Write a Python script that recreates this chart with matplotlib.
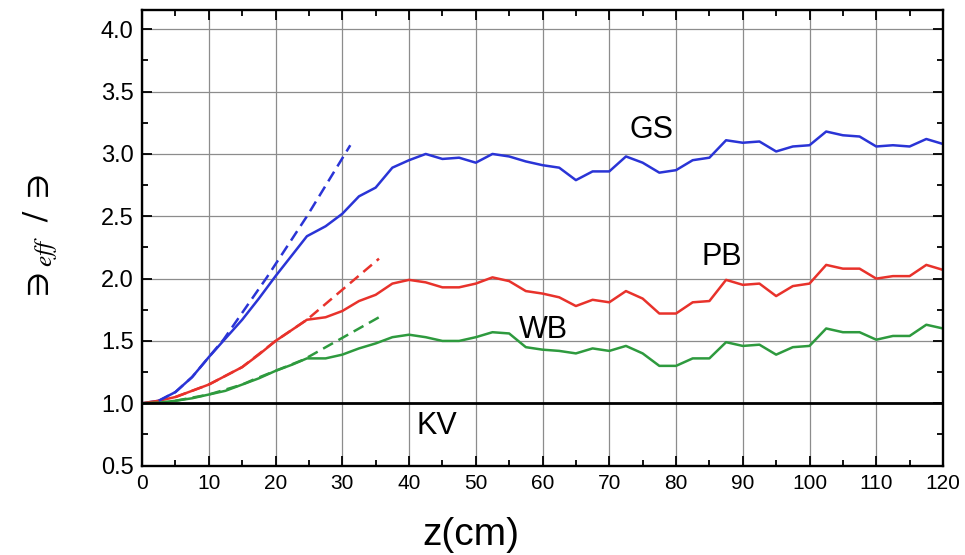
import matplotlib
matplotlib.use("Agg")
import matplotlib.pyplot as plt
from matplotlib.ticker import MultipleLocator

plt.rcParams['font.family'] = ['Liberation Sans', 'DejaVu Sans']
plt.rcParams['mathtext.fontset'] = 'stix'

# profundidade z (cm)
z = [0, 2.5, 5, 7.5, 10, 12.5, 15, 17.5, 20, 22.5, 24.7, 27.5, 30, 32.5, 35, 37.5,
     40, 42.5, 45, 47.5, 50, 52.5, 55, 57.5, 60, 62.5, 65, 67.5, 70, 72.5, 75, 77.5,
     80, 82.5, 85, 87.5, 90, 92.5, 95, 97.5, 100, 102.5, 105, 107.5, 110, 112.5,
     115, 117.5, 120]

gs = [1.00, 1.02, 1.09, 1.21, 1.37, 1.52, 1.67, 1.84, 2.02, 2.19, 2.34, 2.42, 2.52,
      2.66, 2.73, 2.89, 2.95, 3.00, 2.96, 2.97, 2.93, 3.00, 2.98, 2.94, 2.91, 2.89,
      2.79, 2.86, 2.86, 2.98, 2.93, 2.85, 2.87, 2.95, 2.97, 3.11, 3.09, 3.10, 3.02,
      3.06, 3.07, 3.18, 3.15, 3.14, 3.06, 3.07, 3.06, 3.12, 3.08]

pb = [1.00, 1.02, 1.05, 1.10, 1.15, 1.22, 1.29, 1.39, 1.50, 1.59, 1.67, 1.69, 1.74,
      1.82, 1.87, 1.96, 1.99, 1.97, 1.93, 1.93, 1.96, 2.01, 1.98, 1.90, 1.88, 1.85,
      1.78, 1.83, 1.81, 1.90, 1.84, 1.72, 1.72, 1.81, 1.82, 1.99, 1.95, 1.96, 1.86,
      1.94, 1.96, 2.11, 2.08, 2.08, 2.00, 2.02, 2.02, 2.11, 2.07]

wb = [1.00, 1.005, 1.02, 1.04, 1.07, 1.10, 1.15, 1.20, 1.26, 1.31, 1.36, 1.36, 1.39,
      1.44, 1.48, 1.53, 1.55, 1.53, 1.50, 1.50, 1.53, 1.57, 1.56, 1.45, 1.43, 1.42,
      1.40, 1.44, 1.42, 1.46, 1.40, 1.30, 1.30, 1.36, 1.36, 1.49, 1.46, 1.47, 1.39,
      1.45, 1.46, 1.60, 1.57, 1.57, 1.51, 1.54, 1.54, 1.63, 1.60]

# curvas tracejadas (ajustes)
z_gs_fit = [2.5, 5, 7.5, 10, 12.2, 18.7, 24.7, 31.2]
gs_fit = [1.02, 1.09, 1.21, 1.37, 1.51, 2.01, 2.50, 3.07]
z_pb_fit = [5, 10, 15, 20, 24.7, 35.5]
pb_fit = [1.05, 1.15, 1.29, 1.50, 1.67, 2.16]
z_wb_fit = [5, 10, 15, 16.7, 24.2, 35.5]
wb_fit = [1.02, 1.07, 1.15, 1.19, 1.35, 1.69]

cor_gs = "#2a34d6"
cor_pb = "#e8322b"
cor_wb = "#2e9a3e"

fig = plt.figure(figsize=(9.65, 5.55), dpi=100)
ax = fig.add_axes([0.1472, 0.1611, 0.8300, 0.8209])

ax.plot(z, gs, color=cor_gs, lw=1.8)
ax.plot(z, pb, color=cor_pb, lw=1.8)
ax.plot(z, wb, color=cor_wb, lw=1.8)
ax.plot(z_gs_fit, gs_fit, color=cor_gs, lw=1.8, ls=(0, (4.5, 2.5)))
ax.plot(z_pb_fit, pb_fit, color=cor_pb, lw=1.8, ls=(0, (4.5, 2.5)))
ax.plot(z_wb_fit, wb_fit, color=cor_wb, lw=1.8, ls=(0, (4.5, 2.5)))
ax.axhline(1.0, color="black", lw=2.0, zorder=3)

ax.text(76.4, 3.196, "GS", fontsize=22, ha="center", va="center")
ax.text(86.8, 2.17, "PB", fontsize=22, ha="center", va="center")
ax.text(60.1, 1.59, "WB", fontsize=22, ha="center", va="center")
ax.text(44.2, 0.82, "KV", fontsize=22, ha="center", va="center")

ax.set_xlim(0, 120)
ax.set_ylim(0.5, 4.155)
ax.xaxis.set_major_locator(MultipleLocator(10))
ax.xaxis.set_minor_locator(MultipleLocator(5))
ax.yaxis.set_major_locator(MultipleLocator(0.5))
ax.yaxis.set_minor_locator(MultipleLocator(0.25))
ax.yaxis.set_major_formatter(matplotlib.ticker.FormatStrFormatter('%.1f'))

ax.grid(True, which="major", color="#8c8c8c", lw=0.9)
ax.set_axisbelow(True)
for s in ax.spines.values():
    s.set_linewidth(1.7)

ax.tick_params(which="both", direction="in", top=True, right=True, width=1.3)
ax.tick_params(which="major", length=7.5)
ax.tick_params(which="minor", length=4)
ax.tick_params(axis="x", labelsize=15, pad=6)
ax.tick_params(axis="y", labelsize=17, pad=6)

ax.set_xlabel("z(cm)", fontsize=28, va="center")
ax.xaxis.set_label_coords(0.41, -0.152)
ax.set_ylabel(r"$\ni_{eff}\ \ /\ \ni$", fontsize=26, va="center")
ax.yaxis.set_label_coords(-0.127, 0.5)

fig.savefig("out.png", dpi=100)
